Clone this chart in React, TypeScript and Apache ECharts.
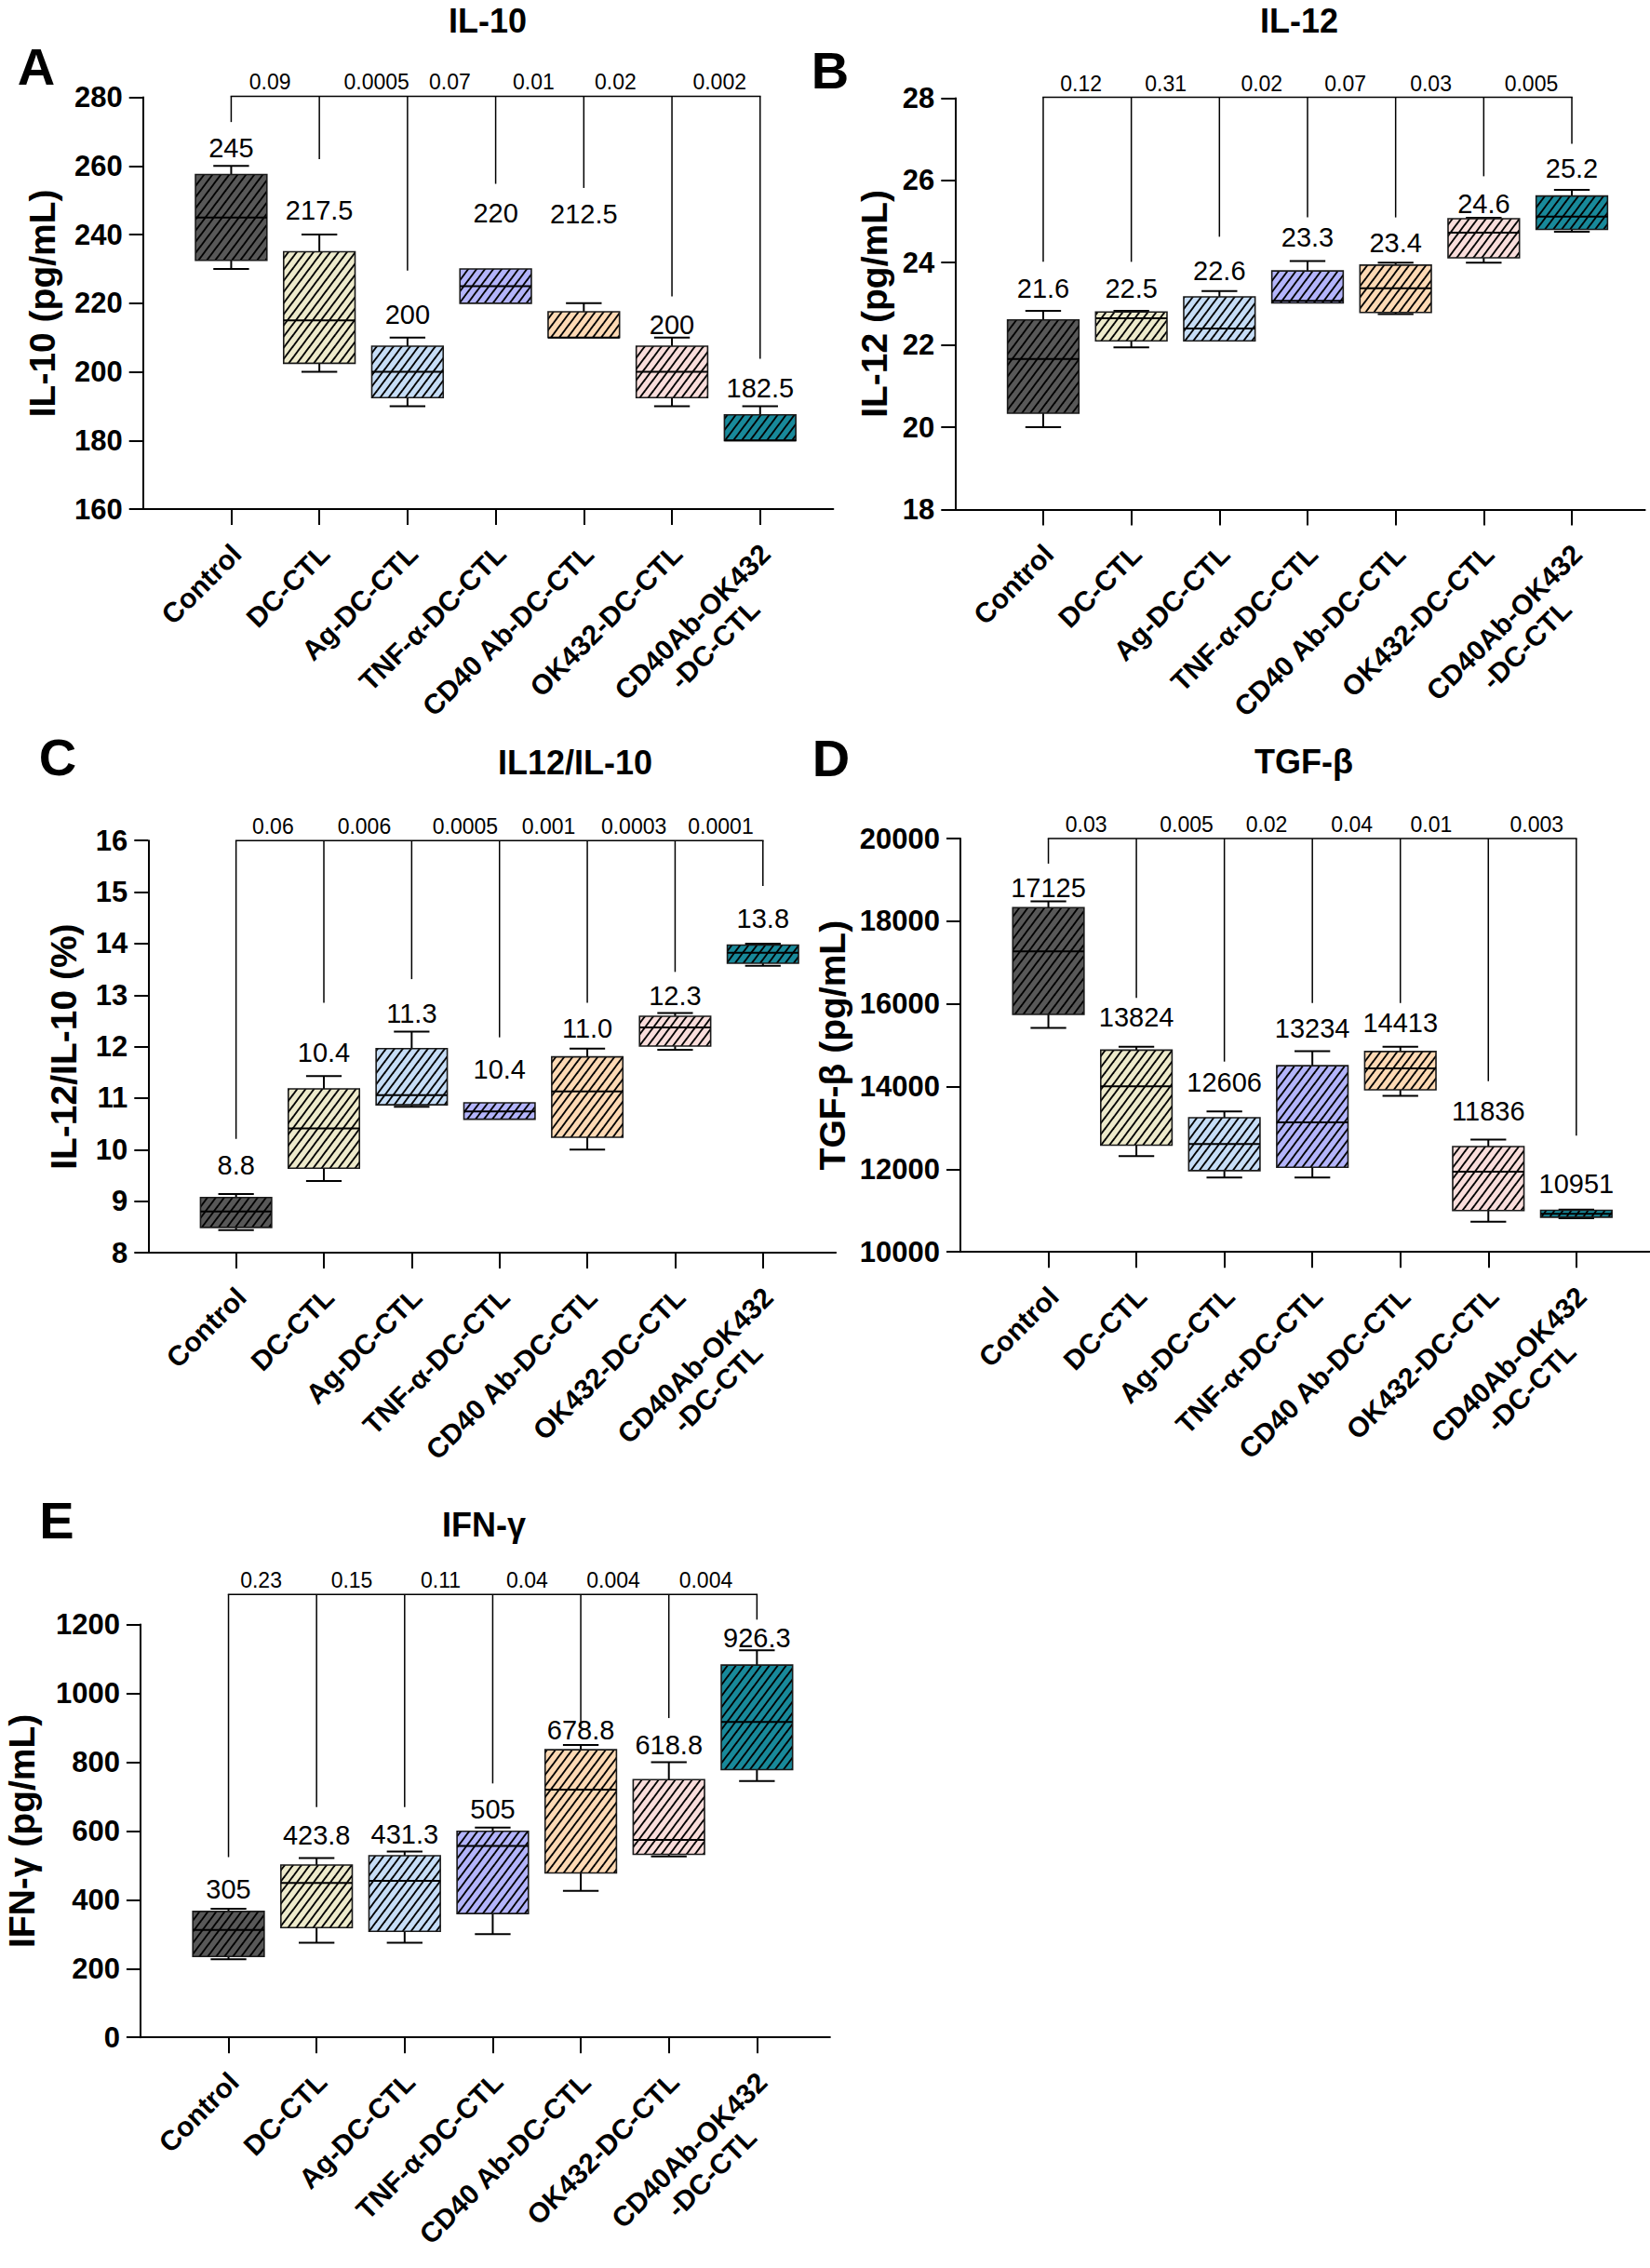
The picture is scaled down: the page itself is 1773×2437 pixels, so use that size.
import React, { useEffect, useRef } from 'react';
import * as echarts from 'echarts';

const FONT = '"Liberation Sans", Arial, Helvetica, sans-serif';

// ---------------- DATA ----------------
const categories = [
  'Control',
  'DC-CTL',
  'Ag-DC-CTL',
  'TNF-α-DC-CTL',
  'CD40 Ab-DC-CTL',
  'OK432-DC-CTL',
  'CD40Ab-OK432\n-DC-CTL',
];

// [min, Q1, median, Q3, max] per group
const il10Stats = [
  [230, 232.5, 245, 257.5, 260],
  [200, 202.5, 215, 235, 240],
  [190, 192.5, 200, 207.5, 210],
  [220, 220, 225, 230, 230],
  [210, 210, 210, 217.5, 220],
  [190, 192.5, 200, 207.5, 210],
  [180, 180, 180, 187.5, 190],
];
const il10Means = ['245', '217.5', '200', '220', '212.5', '200', '182.5'];
const il10PValues = ['0.09', '0.0005', '0.07', '0.01', '0.02', '0.002'];
const il10Ticks = [160, 280, 20];

const il12Stats = [
  [20.0, 20.34, 21.66, 22.61, 22.83],
  [21.94, 22.1, 22.65, 22.8, 22.83],
  [22.1, 22.1, 22.4, 23.17, 23.31],
  [23.02, 23.02, 23.07, 23.8, 24.04],
  [22.75, 22.79, 23.38, 23.94, 24.0],
  [24.0, 24.12, 24.73, 25.07, 25.09],
  [24.75, 24.81, 25.12, 25.62, 25.77],
];
const il12Means = ['21.6', '22.5', '22.6', '23.3', '23.4', '24.6', '25.2'];
const il12PValues = ['0.12', '0.31', '0.02', '0.07', '0.03', '0.005'];
const il12Ticks = [18, 28, 2];

const ratioStats = [
  [8.44, 8.49, 8.8, 9.07, 9.14],
  [9.39, 9.64, 10.41, 11.18, 11.43],
  [10.83, 10.87, 11.06, 11.96, 12.29],
  [10.59, 10.59, 10.74, 10.91, 10.91],
  [10.0, 10.24, 11.13, 11.8, 11.96],
  [11.94, 12.01, 12.37, 12.59, 12.65],
  [13.57, 13.62, 13.82, 13.97, 14.0],
];
const ratioMeans = ['8.8', '10.4', '11.3', '10.4', '11.0', '12.3', '13.8'];
const ratioPValues = ['0.06', '0.006', '0.0005', '0.001', '0.0003', '0.0001'];
const ratioTicks = [8, 16, 1];

const tgfStats = [
  [15420, 15745, 17270, 18330, 18480],
  [12315, 12583, 14006, 14881, 14965],
  [11800, 11966, 12608, 13247, 13398],
  [11800, 12049, 13132, 14505, 14854],
  [13774, 13922, 14440, 14847, 14965],
  [10733, 10999, 11941, 12549, 12716],
  [10816, 10841, 10924, 11007, 11025],
];
const tgfMeans = ['17125', '13824', '12606', '13234', '14413', '11836', '10951'];
const tgfPValues = ['0.03', '0.005', '0.02', '0.04', '0.01', '0.003'];
const tgfTicks = [10000, 20000, 2000];

const ifnStats = [
  [227, 235, 312, 366, 374],
  [275, 319, 449, 501, 521],
  [275, 308, 455, 528, 540],
  [300, 360, 556, 599, 610],
  [426, 478, 720, 836, 850],
  [526, 532, 574, 749, 800],
  [745, 778, 917, 1082, 1125],
];
const ifnMeans = ['305', '423.8', '431.3', '505', '678.8', '618.8', '926.3'];
const ifnPValues = ['0.23', '0.15', '0.11', '0.04', '0.004', '0.004'];
const ifnTicks = [0, 1200, 200];

// ---------------- STYLE / LAYOUT ----------------
const groupColors = ['#585858', '#EDEACB', '#C6DDF6', '#B3B4FA', '#FDD9B4', '#F9DDDB', '#18899A'];

function hatchPattern(color: string) {
  const w = 9;
  const h = 12;
  const lines = [-1, 0, 1]
    .map(
      (k) =>
        `<line x1='${k * w - w}' y1='${2 * h}' x2='${k * w + 2 * w}' y2='${-h}' stroke='black' stroke-width='1.9'/>`
    )
    .join('');
  const svg = `<svg xmlns='http://www.w3.org/2000/svg' width='${w}' height='${h}'><rect width='${w}' height='${h}' fill='${color}'/>${lines}</svg>`;
  return {
    image: 'data:image/svg+xml;charset=utf-8,' + encodeURIComponent(svg),
    repeat: 'repeat',
    imageWidth: w,
    imageHeight: h,
  };
}

const X_MAX = 7.83;

const panels = [
  {
    letter: 'A', title: 'IL-10', yName: 'IL-10 (pg/mL)',
    stats: il10Stats, means: il10Means, p: il10PValues, ticks: il10Ticks,
    grid: [153.7, 104.6, 741.7, 442.5], nameGap: 89,
    labelY: [265.2, 247, 216.8, 246.4, 246.1, 213.6, 195.4],
    drops: [272.8, 262, 229.5, 254.8, 253.6, 222, 203.8], bracketTop: 280.3,
    pShift: [-0.06, 0.15, -0.02, -0.07, -0.14, 0.04],
    titlePos: [524, 22], letterPos: [39, 71],
  },
  {
    letter: 'B', title: 'IL-12', yName: 'IL-12 (pg/mL)',
    stats: il12Stats, means: il12Means, p: il12PValues, ticks: il12Ticks,
    grid: [1026.3, 105.4, 741.3, 442.1], nameGap: 67,
    labelY: [23.37, 23.37, 23.8, 24.62, 24.49, 25.44, 26.3],
    drops: [24.02, 24.02, 24.63, 25.1, 25.1, 26.1, 26.89], bracketTop: 28.02,
    pShift: [-0.07, -0.11, -0.02, -0.07, -0.1, 0.04],
    titlePos: [1396, 22], letterPos: [892, 75],
  },
  {
    letter: 'C', title: 'IL12/IL-10', yName: 'IL-12/IL-10 (%)',
    stats: ratioStats, means: ratioMeans, p: ratioPValues, ticks: ratioTicks,
    grid: [159.3, 903.2, 738.8, 442.8], nameGap: 71,
    labelY: [9.7, 11.88, 12.65, 11.56, 12.36, 12.98, 14.48],
    drops: [10.21, 12.85, 13.31, 12.18, 12.85, 13.45, 15.12], bracketTop: 16,
    pShift: [-0.08, -0.04, 0.11, 0.06, 0.03, 0.02],
    titlePos: [618, 819], letterPos: [62, 813],
  },
  {
    letter: 'D', title: 'TGF-β', yName: 'TGF-β (pg/mL)',
    stats: tgfStats, means: tgfMeans, p: tgfPValues, ticks: tgfTicks,
    grid: [1032, 901, 740.3, 444.2], nameGap: 118,
    labelY: [18809, 15687, 14105, 15397, 15545, 13414, 11649],
    drops: [19392, 16146, 14604, 16020, 16020, 14131, 12815], bracketTop: 20000,
    pShift: [-0.07, 0.07, -0.02, -0.05, -0.15, 0.05],
    titlePos: [1401, 818], letterPos: [893, 814],
  },
  {
    letter: 'E', title: 'IFN-γ', yName: 'IFN-γ (pg/mL)',
    stats: ifnStats, means: ifnMeans, p: ifnPValues, ticks: ifnTicks,
    grid: [150.9, 1745.5, 741, 443.7], nameGap: 108,
    labelY: [430, 588, 591, 663, 893, 850, 1160],
    drops: [524, 669, 669, 738, 898, 928, 1214], bracketTop: 1287,
    pShift: [-0.13, -0.1, -0.09, -0.11, -0.13, -0.08],
    titlePos: [520, 1638], letterPos: [61, 1633],
  },
];

const catPositions = categories.map((_, i) => i + 1);

function seg(x1: number, y1: number, x2: number, y2: number, w = 2) {
  return { type: 'line', shape: { x1, y1, x2, y2 }, style: { stroke: '#000', lineWidth: w } };
}

function buildOption() {
  const patterns = groupColors.map(hatchPattern);
  const grid: any[] = [];
  const xAxis: any[] = [];
  const yAxis: any[] = [];
  const series: any[] = [];
  const graphic: any[] = [];

  panels.forEach((p, i) => {
    grid.push({
      left: p.grid[0], top: p.grid[1], width: p.grid[2], height: p.grid[3],
      outerBoundsMode: 'none', containLabel: false,
    });
    xAxis.push({
      type: 'value', gridIndex: i, min: 0, max: X_MAX,
      axisLine: { show: true, onZero: false, lineStyle: { color: '#000', width: 2 } },
      axisTick: { show: true, length: 17, customValues: catPositions, lineStyle: { color: '#000', width: 2 } },
      splitLine: { show: false },
      axisLabel: {
        show: true,
        customValues: catPositions,
        rotate: 45,
        align: 'right',
        verticalAlign: 'top',
        margin: 6,
        padding: [13, 22, 0, 0],
        formatter: (v: number) => {
          const name = categories[Math.round(v) - 1] || '';
          return name.split('\n').map((s) => `{c|${s}}`).join('\n');
        },
        rich: {
          c: { fontSize: 30, fontWeight: 'bold', fontFamily: FONT, color: '#000', align: 'center', lineHeight: 34 },
        },
      },
    });
    yAxis.push({
      type: 'value', gridIndex: i,
      min: p.ticks[0], max: p.ticks[1], interval: p.ticks[2],
      name: p.yName, nameLocation: 'middle', nameGap: p.nameGap, nameMoveOverlap: false,
      nameTextStyle: { fontSize: 39, fontWeight: 'bold', color: '#000', fontFamily: FONT },
      axisLine: { show: true, lineStyle: { color: '#000', width: 2 } },
      axisTick: { show: true, length: 15, lineStyle: { color: '#000', width: 2 } },
      axisLabel: {
        fontSize: 31, fontWeight: 'bold', color: '#000', fontFamily: FONT, margin: 22,
        formatter: (v: number) => String(v),
      },
      splitLine: { show: false },
    });

    series.push({
      type: 'custom',
      xAxisIndex: i, yAxisIndex: i,
      clip: false,
      data: p.stats.map((s, j) => [j + 1, ...s, p.labelY[j]]),
      renderItem: (params: any, api: any) => {
        const j = params.dataIndex;
        const x = api.value(0);
        const v = [1, 2, 3, 4, 5].map((d) => api.value(d));
        const cx = api.coord([x, v[2]])[0];
        const y = v.map((val) => api.coord([x, val])[1]);
        const band = api.size([1, 0])[0];
        const bw = band * 0.81;
        const cw = bw * 0.5;
        const children: any[] = [];
        if (y[4] < y[3] - 0.5) {
          children.push(seg(cx, y[3], cx, y[4]), seg(cx - cw / 2, y[4], cx + cw / 2, y[4]));
        }
        if (y[0] > y[1] + 0.5) {
          children.push(seg(cx, y[1], cx, y[0]), seg(cx - cw / 2, y[0], cx + cw / 2, y[0]));
        }
        children.push({
          type: 'rect',
          shape: { x: cx - bw / 2, y: y[3], width: bw, height: Math.max(y[1] - y[3], 1) },
          style: { fill: patterns[j], stroke: '#1a1a1a', lineWidth: 1.6 },
        });
        children.push(seg(cx - bw / 2, y[2], cx + bw / 2, y[2], 2));
        children.push({
          type: 'text',
          x: cx,
          y: api.coord([x, api.value(6)])[1],
          style: {
            text: p.means[j], fontSize: 29, fontFamily: FONT, fill: '#000',
            align: 'center', verticalAlign: 'middle',
          },
        });
        return { type: 'group', children };
      },
    });

    series.push({
      type: 'custom',
      xAxisIndex: i, yAxisIndex: i,
      clip: false,
      data: p.drops.map((d, j) => [j + 1, d]),
      renderItem: (params: any, api: any) => {
        const j = params.dataIndex;
        const x = api.value(0);
        const top = api.coord([x, p.bracketTop]);
        const end = api.coord([x, api.value(1)])[1];
        const children: any[] = [seg(top[0], top[1], top[0], end, 1.5)];
        if (j === 0) {
          const xr = api.coord([p.drops.length, p.bracketTop])[0];
          children.push(seg(top[0] - 0.75, top[1], xr + 0.75, top[1], 1.5));
        }
        if (j < p.p.length) {
          const mx = api.coord([x + 0.5 + p.pShift[j], p.bracketTop])[0];
          children.push({
            type: 'text', x: mx, y: top[1] - 15,
            style: {
              text: p.p[j], fontSize: 23, fontFamily: FONT, fill: '#000',
              align: 'center', verticalAlign: 'middle',
            },
          });
        }
        return { type: 'group', children };
      },
    });

    graphic.push({
      type: 'text', x: p.titlePos[0], y: p.titlePos[1],
      style: { text: p.title, fontSize: 36, fontWeight: 'bold', fontFamily: FONT, fill: '#000', align: 'center', verticalAlign: 'middle' },
    });
    graphic.push({
      type: 'text', x: p.letterPos[0], y: p.letterPos[1],
      style: { text: p.letter, fontSize: 56, fontWeight: 'bold', fontFamily: FONT, fill: '#000', align: 'center', verticalAlign: 'middle' },
    });
  });

  return {
    animation: false,
    backgroundColor: '#ffffff',
    textStyle: { fontFamily: FONT },
    grid, xAxis, yAxis, series, graphic,
  };
}

export default function App() {
  const ref = useRef<HTMLDivElement>(null);
  useEffect(() => {
    if (!ref.current) return;
    const chart = echarts.init(ref.current, null, { renderer: 'svg' });
    chart.setOption(buildOption() as any);
    return () => chart.dispose();
  }, []);
  return (
    <div
      ref={ref}
      style={{ position: 'absolute', left: 0, top: 0, width: 1773, height: 2437, background: '#fff' }}
    />
  );
}
